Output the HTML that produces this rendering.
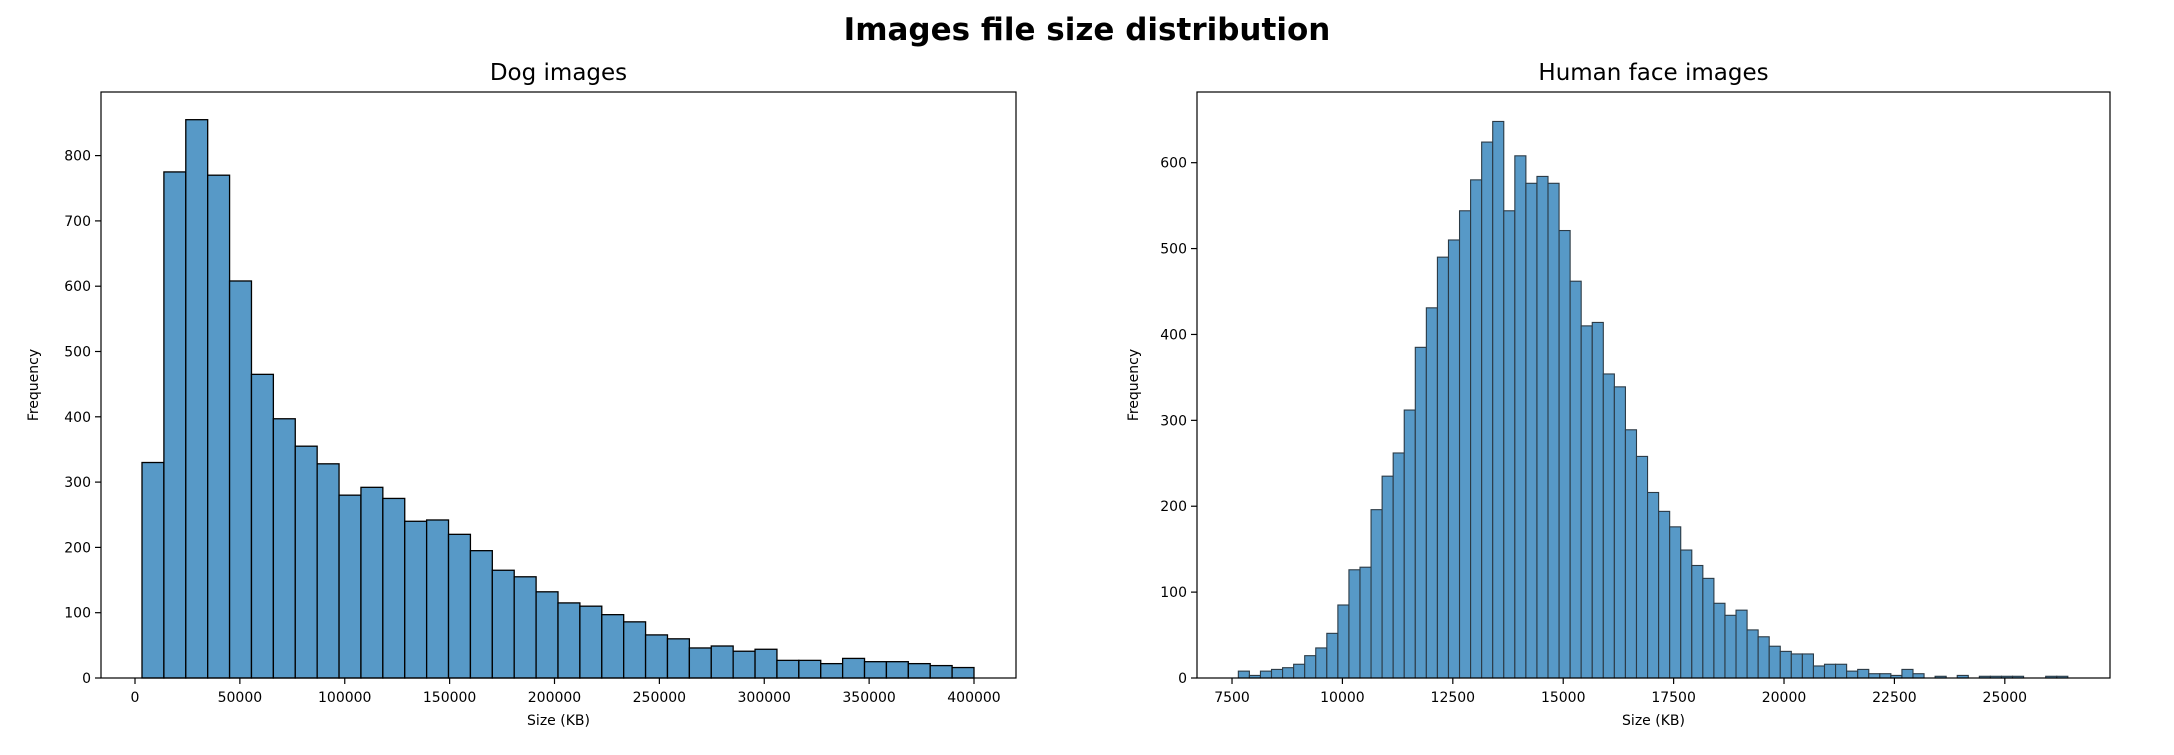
<!DOCTYPE html>
<html><head><meta charset="utf-8"><style>
body{margin:0;background:#fff}
svg text{font-family:"DejaVu Sans","Liberation Sans",sans-serif;fill:#000}
</style></head><body>
<svg id="fig" width="2174" height="750" xmlns="http://www.w3.org/2000/svg">
<text x="1087" y="40" text-anchor="middle" font-size="31" font-weight="bold">Images file size distribution</text>
<g id="dog"></g>
<g id="human"></g>
</svg>
<script>
const dogStart = 3337, dogEnd = 400000;
const dogCounts = [330,775,855,770,608,465,397,355,328,280,292,275,240,242,220,195,165,155,132,115,110,97,86,66,60,46,49,41,44,27,27,22,30,25,25,22,19,16];
const dogXTicks = [0,50000,100000,150000,200000,250000,300000,350000,400000];
const dogYTicks = [0,100,200,300,400,500,600,700,800];
const humStart = 7643, humEnd = 26427;
const humCounts = [8,3,8,10,12,16,26,35,52,85,126,129,196,235,262,312,385,431,490,510,544,580,624,648,544,608,576,584,576,521,462,410,414,354,339,289,258,216,194,176,149,131,116,87,73,79,56,48,37,31,28,28,14,16,16,8,10,5,5,3,10,5,0,2,0,3,0,2,2,2,2,0,0,2,2];
const humXTicks = [7500,10000,12500,15000,17500,20000,22500,25000];
const humYTicks = [0,100,200,300,400,500,600];
const NS='http://www.w3.org/2000/svg';
function mk(parent,tag,attrs,text){const e=document.createElementNS(NS,tag);for(const k in attrs)e.setAttribute(k,attrs[k]);if(text!==undefined)e.textContent=text;parent.appendChild(e);return e;}
function draw(g,cfg){
  const {L,R,T,B,x0,x1,y1,start,end,counts,xt,yt,title,edge,ew,prefix}=cfg;
  const sx=v=>L+(v-x0)/(x1-x0)*(R-L);
  const sy=v=>B-v/y1*(B-T);
  const t=mk(g,'text',{x:(L+R)/2,y:80,'text-anchor':'middle','font-size':'23'},title);
  
  
  const w=(end-start)/counts.length;
  counts.forEach((c,i)=>{
    if(c<=0)return;
    const a=sx(start+i*w),b=sx(start+(i+1)*w);
    const r=mk(g,'rect',{x:a,y:sy(c),width:b-a,height:B-sy(c),fill:'#5799c7',stroke:edge,'stroke-width':ew});
    
    
  });
  const f=mk(g,'rect',{x:L,y:T,width:R-L,height:B-T,fill:'none',stroke:'#000','stroke-width':1.2});
  
  
  xt.forEach(v=>{
    const x=sx(v);
    mk(g,'line',{x1:x,x2:x,y1:B,y2:B+6,stroke:'#000','stroke-width':1.2});
    const tx=mk(g,'text',{x:x,y:B+24,'text-anchor':'middle','font-size':'14'},String(v));
    
    
  });
  yt.forEach(v=>{
    const y=sy(v);
    mk(g,'line',{x1:L-6,x2:L,y1:y,y2:y,stroke:'#000','stroke-width':1.2});
    const ty=mk(g,'text',{x:L-10,y:y+5,'text-anchor':'end','font-size':'14'},String(v));
    
    
  });
  const xl=mk(g,'text',{x:(L+R)/2,y:B+47,'text-anchor':'middle','font-size':'14'},'Size (KB)');
  
  
  const cx=cfg.ylx,cy=(T+B)/2;
  const yl=mk(g,'text',{x:cx,y:cy,'text-anchor':'middle','font-size':'14',transform:`rotate(-90 ${cx} ${cy})`},'Frequency');
  
  
}
draw(document.getElementById('dog'),{L:101,R:1016,T:92,B:678,x0:-16210,x1:420024,y1:897.4,start:dogStart,end:dogEnd,counts:dogCounts,xt:dogXTicks,yt:dogYTicks,title:'Dog images',edge:'#000',ew:1.3,prefix:'dog',ylx:38});
draw(document.getElementById('human'),{L:1197,R:2110,T:92,B:678,x0:6707,x1:27382,y1:682.3,start:humStart,end:humEnd,counts:humCounts,xt:humXTicks,yt:humYTicks,title:'Human face images',edge:'#2b3a45',ew:1.1,prefix:'human',ylx:1138});
</script>
</body></html>
